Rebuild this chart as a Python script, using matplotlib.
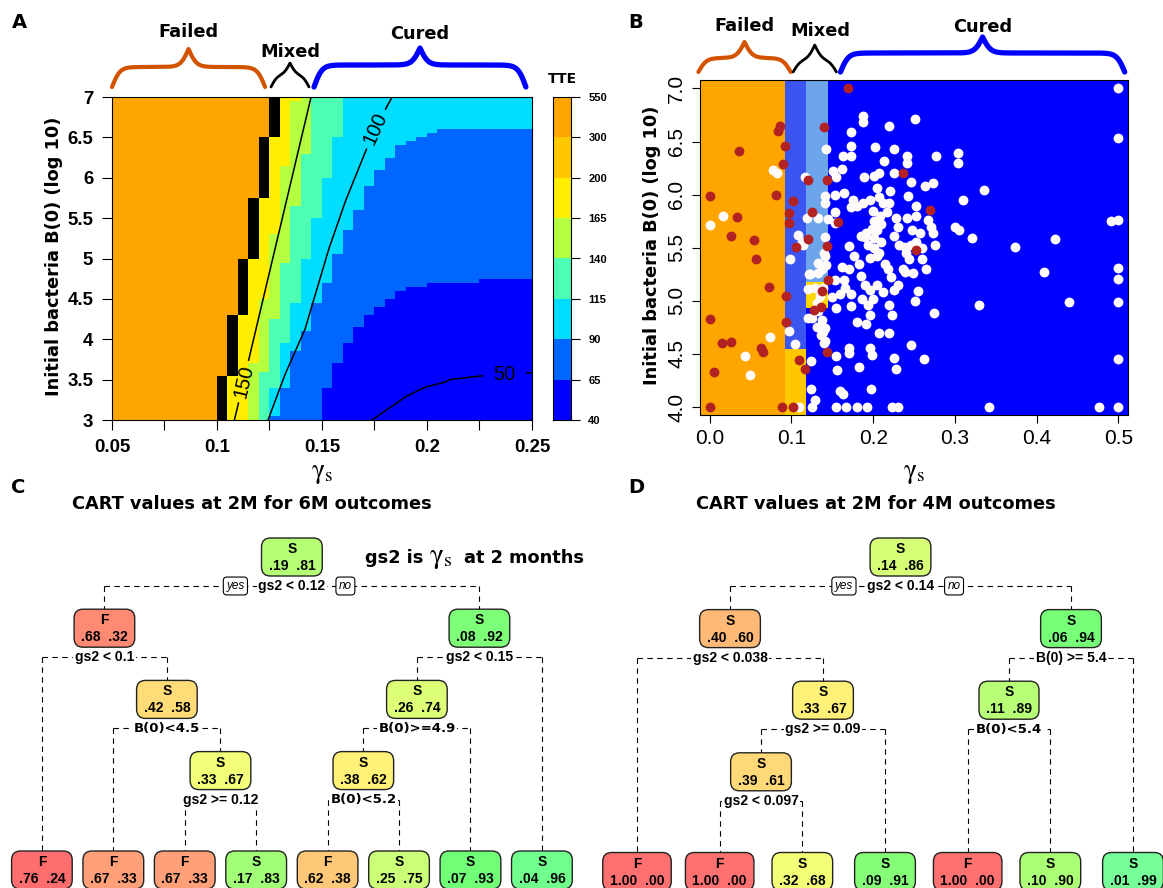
import numpy as np
import matplotlib
matplotlib.use("Agg")
import matplotlib.pyplot as plt
from matplotlib.colors import ListedColormap
from matplotlib.patches import FancyBboxPatch

plt.rcParams['font.family'] = 'DejaVu Sans'
plt.rcParams['mathtext.fontset'] = 'stix'

W, H = 1163, 888

# ---------------- panel A : TTE over gamma_s and B(0) ----------------
tte_levels = [40, 65, 90, 115, 140, 165, 200, 300, 550]
tte_colors = ['#0000FF', '#0066FF', '#00DDFF', '#4DFFB3', '#B3FF40',
              '#FFEE00', '#FFC800', '#FFA500']

# gamma_s where TTE crosses each level, read along B(0)
edge300_b0 = [3.0, 3.57, 4.32, 5.02, 5.78, 6.5, 7.0]
edge300_g = [0.099, 0.1026, 0.1076, 0.1126, 0.1176, 0.1226, 0.1262]
edge165_b0 = [3.0, 7.0]
edge165_g = [0.1131, 0.1379]
edge140_b0 = [3.0, 7.0]
edge140_g = [0.1182, 0.1475]
edge115_b0 = [3.0, 5.0, 7.0]
edge115_g = [0.1235, 0.1427, 0.1627]
edge90_b0 = [3.0, 3.16, 3.45, 3.87, 4.11, 4.49, 4.73, 5.08, 5.37, 5.62, 5.87,
             6.11, 6.26, 6.36, 6.455, 6.505, 6.554, 6.608, 6.62]
edge90_g = [0.127, 0.1283, 0.133, 0.1378, 0.1426, 0.148, 0.153, 0.1578, 0.1627,
            0.1675, 0.1723, 0.1771, 0.182, 0.1867, 0.1915, 0.1963, 0.2018, 0.2163, 0.30]
edge65_b0 = [3.0, 3.45, 3.74, 3.95, 4.135, 4.28, 4.38, 4.49, 4.57, 4.62, 4.67,
             4.69, 4.73, 4.74]
edge65_g = [0.1475, 0.153, 0.1578, 0.1627, 0.1675, 0.1723, 0.1771, 0.182, 0.1867,
            0.1915, 0.197, 0.2066, 0.2259, 0.30]

# labelled contour lines
c150_g = [0.1083, 0.1448]
c150_b0 = [3.0, 7.0]
c100_g = [0.1243, 0.132, 0.1418, 0.153, 0.161, 0.1706, 0.1775, 0.1834]
c100_b0 = [3.0, 3.54, 4.115, 5.1, 5.70, 6.32, 6.72, 7.0]
c50_g = [0.1738, 0.1899, 0.1994, 0.209, 0.2106, 0.225, 0.2371, 0.2459, 0.25]
c50_b0 = [3.0, 3.29, 3.41, 3.47, 3.50, 3.545, 3.56, 3.58, 3.585]

groups = ['Failed', 'Mixed', 'Cured']
a_grp_lo = [0.05, 0.1257, 0.1462]
a_grp_hi = [0.1229, 0.1438, 0.2471]

# ---------------- panel B : CART regions and patients ----------------
b_grp_lo = [-0.014, 0.102, 0.160]
b_grp_hi = [0.099, 0.155, 0.508]

reg_g0 = [-0.02, 0.092, 0.092, 0.118, 0.118, 0.118, 0.145]
reg_g1 = [0.092, 0.118, 0.118, 0.145, 0.145, 0.145, 0.52]
reg_b0 = [3.9, 4.55, 3.9, 5.18, 4.93, 3.9, 3.9]
reg_b1 = [7.1, 7.1, 4.55, 7.1, 5.18, 4.93, 7.1]
reg_col = ['#FFA500', '#3B55F0', '#FFC800', '#6CA5EB', '#FFD700', '#0000FF', '#0000FF']

cured_pts = [
    (0.4995, 7.0), (0.187, 6.74), (0.188, 6.68), (0.2516, 6.71), (0.219, 6.65), (0.4995, 6.53),
    (0.1724, 6.59), (0.1733, 6.46), (0.1424, 6.43), (0.202, 6.45), (0.2257, 6.43), (0.2416, 6.36),
    (0.2416, 6.30), (0.2771, 6.36), (0.2134, 6.32), (0.304, 6.39), (0.3044, 6.30), (0.1633, 6.36),
    (0.1733, 6.36), (0.162, 6.24), (0.1506, 6.22), (0.154, 6.17), (0.189, 6.17), (0.2006, 6.18),
    (0.2075, 6.2), (0.2257, 6.2), (0.246, 6.12), (0.273, 6.11), (0.264, 6.08), (0.1165, 6.17),
    (0.1415, 5.99), (0.153, 6.0), (0.1642, 6.02), (0.1756, 5.95), (0.187, 5.92), (0.196, 5.95),
    (0.2075, 5.98), (0.205, 6.06), (0.221, 6.03), (0.243, 5.99), (0.336, 6.04), (0.31, 5.95),
    (0.1406, 5.92), (0.1724, 5.88), (0.18, 5.89), (0.219, 5.92), (0.2166, 5.84), (0.253, 5.89),
    (0.1533, 5.84), (0.1187, 5.78), (0.145, 5.77), (0.228, 5.78), (0.2416, 5.78), (0.253, 5.8),
    (0.2006, 5.75), (0.2097, 5.72), (0.205, 5.67), (0.2666, 5.76), (0.271, 5.7), (0.273, 5.64),
    (0.3007, 5.70), (0.305, 5.67), (0.491, 5.75), (0.4995, 5.76), (0.1538, 5.73), (0.248, 5.67),
    (0.257, 5.64), (0.1074, 5.62), (0.1142, 5.53), (0.1847, 5.61), (0.1915, 5.64), (0.2006, 5.59),
    (0.1938, 5.53), (0.2006, 5.5), (0.2075, 5.45), (0.205, 5.42), (0.196, 5.4), (0.2257, 5.61),
    (0.2316, 5.53), (0.2393, 5.51), (0.2461, 5.53), (0.253, 5.55), (0.26, 5.5), (0.2757, 5.53),
    (0.3212, 5.59), (0.3735, 5.51), (0.4227, 5.58), (0.0983, 5.39), (0.1324, 5.36), (0.1415, 5.42),
    (0.1424, 5.34), (0.162, 5.32), (0.2439, 5.39), (0.26, 5.39), (0.121, 5.25), (0.1324, 5.26),
    (0.1529, 5.2), (0.1642, 5.2), (0.1847, 5.23), (0.2393, 5.27), (0.2484, 5.26), (0.2643, 5.3),
    (0.409, 5.27), (0.4995, 5.31), (0.4995, 5.21), (0.1197, 5.11), (0.139, 5.12), (0.1497, 5.04),
    (0.1597, 5.06), (0.1733, 5.06), (0.2552, 5.09), (0.1197, 4.84), (0.1324, 4.9), (0.137, 4.82),
    (0.1415, 4.74), (0.1551, 4.93), (0.1733, 4.95), (0.196, 4.87), (0.1938, 4.96), (0.2188, 4.96),
    (0.2234, 4.87), (0.18, 4.8), (0.1915, 4.78), (0.2507, 5.0), (0.2743, 4.89), (0.3294, 4.96),
    (0.4395, 4.99), (0.4995, 4.99), (0.2075, 4.7), (0.2188, 4.7), (0.0974, 4.72), (0.1392, 4.71),
    (0.1406, 4.62), (0.1042, 4.59), (0.0742, 4.66), (0.0428, 4.48), (0.171, 4.56), (0.171, 4.51),
    (0.196, 4.56), (0.1984, 4.49), (0.2461, 4.58), (0.1542, 4.48), (0.1233, 4.43), (0.2257, 4.46),
    (0.262, 4.45), (0.4995, 4.45), (0.1824, 4.38), (0.0487, 4.30), (0.156, 4.35), (0.228, 4.36),
    (0.1233, 4.17), (0.1597, 4.15), (0.1633, 4.12), (0.197, 4.17), (0.1288, 4.07), (0.1256, 4.0),
    (0.1096, 4.0), (0.155, 4.0), (0.1665, 4.0), (0.18, 4.0), (0.1924, 4.0), (0.2225, 4.0),
    (0.2302, 4.0), (0.3417, 4.0), (0.4768, 4.0), (0.4995, 4.0), (0.0778, 6.235), (0.0823, 6.2),
    (0.0164, 5.80), (0.0, 5.71), (0.2, 5.85), (0.208, 5.8), (0.212, 5.92), (0.19, 5.6),
    (0.198, 5.68), (0.21, 5.55), (0.214, 5.35), (0.218, 5.3), (0.222, 5.22), (0.205, 5.15),
    (0.196, 5.1), (0.19, 5.15), (0.212, 5.08), (0.2, 5.02), (0.186, 5.02), (0.166, 5.12),
    (0.17, 5.3), (0.225, 5.1), (0.23, 5.15), (0.237, 5.3), (0.24, 5.45), (0.23, 5.7),
    (0.17, 5.52), (0.176, 5.42), (0.183, 5.35), (0.1133, 5.55), (0.1224, 5.25), (0.1288, 5.12),
    (0.135, 5.05), (0.131, 4.98), (0.125, 4.84), (0.131, 4.75), (0.1365, 4.68), (0.14, 4.6),
    (0.137, 5.3), (0.14, 5.45), (0.1415, 5.6), (0.132, 5.78),
]
failed_pts = [
    (0.169, 7.0), (0.0855, 6.645), (0.084, 6.6), (0.1395, 6.635), (0.0355, 6.41), (0.092, 6.46),
    (0.090, 6.29), (0.1207, 6.14), (0.1433, 6.14), (0.237, 6.2), (0.0, 5.99), (0.081, 5.995),
    (0.1024, 5.94), (0.097, 5.83), (0.1248, 5.84), (0.0328, 5.79), (0.2697, 5.86), (0.097, 5.73),
    (0.157, 5.74), (0.0264, 5.61), (0.0546, 5.57), (0.1197, 5.58), (0.106, 5.51), (0.1438, 5.52),
    (0.2525, 5.48), (0.0569, 5.39), (0.0728, 5.13), (0.137, 5.09), (0.1444, 5.2), (0.0928, 5.05),
    (0.127, 4.91), (0.136, 4.94), (0.0, 4.83), (0.0933, 4.80), (0.015, 4.60), (0.026, 4.615),
    (0.0632, 4.56), (0.0655, 4.52), (0.1433, 4.52), (0.1096, 4.44), (0.116, 4.36), (0.005, 4.33),
    (0.0, 4.0), (0.088, 4.0), (0.102, 4.0),
]

# ---------------- panels C and D : CART trees ----------------
c_node = [1, 2, 4, 5, 10, 11, 22, 23, 3, 6, 12, 24, 25, 13, 7]
c_class = ['S', 'F', 'F', 'S', 'F', 'S', 'F', 'S', 'S', 'S', 'S', 'F', 'S', 'S', 'S']
c_pfail = [.19, .68, .76, .42, .67, .33, .67, .17, .08, .26, .38, .62, .25, .07, .04]
c_split = {1: 'gs2 < 0.12', 2: 'gs2 < 0.1', 5: 'B(0)<4.5', 11: 'gs2 >= 0.12',
           3: 'gs2 < 0.15', 6: 'B(0)>=4.9', 12: 'B(0)<5.2'}

d_node = [1, 2, 4, 5, 10, 20, 21, 11, 3, 6, 12, 13, 7]
d_class = ['S', 'S', 'F', 'S', 'S', 'F', 'S', 'S', 'S', 'S', 'F', 'S', 'S']
d_pfail = [.14, .40, 1.00, .33, .39, 1.00, .32, .09, .06, .11, 1.00, .10, .01]
d_split = {1: 'gs2 < 0.14', 2: 'gs2 < 0.038', 5: 'gs2 >= 0.09', 10: 'gs2 < 0.097',
           3: 'B(0) >= 5.4', 6: 'B(0)<5.4'}

c_fill = {1: '#B5FF77', 2: '#FF8A73', 4: '#FF6E6E', 5: '#FFDC78', 10: '#FFA078',
          11: '#F2FF78', 22: '#FFA078', 23: '#A0FF77', 3: '#7DFF77', 6: '#DDFF77',
          12: '#FFF078', 24: '#FFC878', 25: '#CCFF78', 13: '#70FF77', 7: '#70FF8C'}
d_fill = {1: '#D6FF77', 2: '#FFB977', 4: '#FF7070', 5: '#FFF077', 10: '#FFD878',
          20: '#FF7070', 21: '#F2FF77', 11: '#85FF77', 3: '#77FF77', 6: '#B8FF77',
          12: '#FF7070', 13: '#AAFF77', 7: '#77FF99'}


def rect(x0, y0, x1, y1):
    return [x0 / W, 1 - y1 / H, (x1 - x0) / W, (y1 - y0) / H]


fig = plt.figure(figsize=(W / 100, H / 100), dpi=100)

A_BOX = (112, 97, 532, 420)
CB_BOX = (553, 97, 571, 420)
B_BOX = (700, 80, 1128, 415)
A_XLIM, A_YLIM = (0.05, 0.25), (3.0, 7.0)
B_XLIM, B_YLIM = (-0.012, 0.512), (3.925, 7.08)

bold_lib = dict(family='Liberation Sans', weight='bold')

# ---- A: banded map
axa = fig.add_axes(rect(*A_BOX))
g_edges = np.linspace(0.05, 0.25, 41)
b_edges = np.linspace(3.0, 7.0, 81)
gc = 0.5 * (g_edges[1:] + g_edges[:-1])
bc = 0.5 * (b_edges[1:] + b_edges[:-1])
G, B = np.meshgrid(gc, bc)

e300 = np.interp(B, edge300_b0, edge300_g)
e200 = e300 + 0.005
edges = [e300, e200,
         np.interp(B, edge165_b0, edge165_g),
         np.interp(B, edge140_b0, edge140_g),
         np.interp(B, edge115_b0, edge115_g),
         np.interp(B, edge90_b0, edge90_g),
         np.interp(B, edge65_b0, edge65_g)]
band = sum((G < e).astype(int) for e in edges)
axa.pcolormesh(g_edges, b_edges, band, cmap=ListedColormap(tte_colors),
               vmin=-0.5, vmax=7.5, shading='flat', antialiased=False)
# the 200..550 contour lines crowd into one solid black column
dense = np.ma.masked_where(band != 6, band)
axa.pcolormesh(g_edges, b_edges, dense, cmap=ListedColormap(['black']),
               shading='flat', antialiased=False)

px_g = (A_BOX[2] - A_BOX[0]) / (A_XLIM[1] - A_XLIM[0])
px_b = (A_BOX[3] - A_BOX[1]) / (A_YLIM[1] - A_YLIM[0])


def contour_line(gs, bs, label, at, gap=22):
    gs, bs = np.asarray(gs), np.asarray(bs)
    s = np.r_[0, np.cumsum(np.hypot(np.diff(gs) * px_g, np.diff(bs) * px_b))]
    ss = np.linspace(0, s[-1], 800)
    gg, bb = np.interp(ss, s, gs), np.interp(ss, s, bs)
    d = np.hypot((gg - at[0]) * px_g, (bb - at[1]) * px_b)
    k = int(np.argmin(d))
    d = np.hypot((gg - gg[k]) * px_g, (bb - bb[k]) * px_b)
    gm = gg.copy()
    gm[d < gap] = np.nan
    axa.plot(gm, bb, color='black', lw=1.1)
    k0, k1 = max(k - 8, 0), min(k + 8, len(gg) - 1)
    ang = np.degrees(np.arctan2((bb[k1] - bb[k0]) * px_b, (gg[k1] - gg[k0]) * px_g))
    if abs(ang) < 6:
        ang = 0
    axa.text(gg[k], bb[k], label, rotation=ang, ha='center', va='center',
             fontsize=14.5, family='Liberation Sans')


contour_line(c150_g, c150_b0, '150', (0.1138, 3.47))
contour_line(c100_g, c100_b0, '100', (0.1758, 6.6))
contour_line(c50_g, c50_b0, '50', (0.2371, 3.56))

axa.set_xlim(*A_XLIM)
axa.set_ylim(*A_YLIM)
axa.set_xticks(np.arange(0.05, 0.2501, 0.025))
axa.set_xticklabels(['0.05', '', '0.1', '', '0.15', '', '0.2', '', '0.25'])
axa.set_yticks(np.arange(3, 7.01, 0.5))
axa.set_yticklabels(['3', '3.5', '4', '4.5', '5', '5.5', '6', '6.5', '7'])
axa.tick_params(length=7.5, width=0.8, pad=6, labelsize=13.4)
for t in axa.get_xticklabels() + axa.get_yticklabels():
    t.set_fontproperties(bold_lib)
    t.set_fontsize(13.4)

# ---- A: colour key
cax = fig.add_axes(rect(*CB_BOX))
cax.pcolormesh([0, 1], np.arange(9), np.arange(8).reshape(-1, 1),
               cmap=ListedColormap(tte_colors), vmin=-0.5, vmax=7.5)
cax.set_xlim(0, 1)
cax.set_ylim(0, 8)
cax.set_xticks([])
cax.yaxis.tick_right()
cax.set_yticks(range(9))
cax.set_yticklabels([str(v) for v in tte_levels])
cax.tick_params(length=6.5, width=0.8, pad=6)
for t in cax.get_yticklabels():
    t.set_fontproperties(bold_lib)
    t.set_fontsize(8)

# ---- B: partition and patients
axb = fig.add_axes(rect(*B_BOX))
for g0, g1, b0, b1, col in zip(reg_g0, reg_g1, reg_b0, reg_b1, reg_col):
    axb.fill_between([g0, g1], [b0, b0], [b1, b1], color=col, lw=0)
cx, cy = zip(*cured_pts)
fx, fy = zip(*failed_pts)
axb.scatter(cx, cy, s=50, color='#FFFBFB', linewidths=0, zorder=3)
axb.scatter(fx, fy, s=50, color='#B22222', linewidths=0, zorder=4)
axb.set_xlim(*B_XLIM)
axb.set_ylim(*B_YLIM)
axb.set_xticks(np.arange(0, 0.51, 0.1))
axb.set_xticklabels(['%.1f' % v for v in np.arange(0, 0.51, 0.1)])
axb.set_yticks(np.arange(4, 7.01, 0.5))
axb.set_yticklabels(['%.1f' % v for v in np.arange(4, 7.01, 0.5)], rotation=90, va='center')
axb.tick_params(length=6, width=0.8, pad=4)
for t in axb.get_xticklabels() + axb.get_yticklabels():
    t.set_family('Liberation Sans')
    t.set_fontsize(15)

# ---- overlay in pixel units for braces, labels and trees
ov = fig.add_axes([0, 0, 1, 1], zorder=5)
ov.set_xlim(0, W)
ov.set_ylim(H, 0)
ov.axis('off')


def to_px(box, lim, g):
    return box[0] + (g - lim[0]) / (lim[1] - lim[0]) * (box[2] - box[0])


def brace(x0, x1, y_end, y_flat, y_tip, color, lw):
    half = (x1 - x0) / 2
    beta = max(0.25, 6 / half)
    u = np.linspace(0, half, 300)
    s1 = 2 / (1 + np.exp(-beta * u)) - 1
    s2 = 2 / (1 + np.exp(-beta * (u - half)))
    y = y_end + (y_flat - y_end) * s1 + (y_tip - y_flat) * s2
    xs = np.r_[x0 + u, x1 - u[::-1]]
    ys = np.r_[y, y[::-1]]
    ov.plot(xs, ys, color=color, lw=lw, solid_capstyle='round')


brace_col = ['#D35400', 'black', '#0000FF']
brace_lw = [3.0, 2.0, 3.8]
a_geom = [(87, 67, 49), (87, 75, 63), (87, 65, 48)]
a_text_y = [32, 52, 34]
b_geom = [(72, 58, 42), (72, 60, 45), (72, 53, 37)]
b_text_y = [26, 31, 27]
for i, name in enumerate(groups):
    x0 = to_px(A_BOX, A_XLIM, a_grp_lo[i])
    x1 = to_px(A_BOX, A_XLIM, a_grp_hi[i])
    brace(x0, x1, *a_geom[i], brace_col[i], brace_lw[i])
    ov.text((x0 + x1) / 2, a_text_y[i], name, ha='center', va='center',
            fontsize=12.8, weight='bold')
    x0 = to_px(B_BOX, B_XLIM, b_grp_lo[i])
    x1 = to_px(B_BOX, B_XLIM, b_grp_hi[i])
    brace(x0, x1, *b_geom[i], brace_col[i], brace_lw[i])
    ov.text((x0 + x1) / 2 + (6 if name == 'Mixed' else 0), b_text_y[i], name,
            ha='center', va='center', fontsize=12.8, weight='bold')

ov.text(562, 79, 'TTE', ha='center', va='center', fontsize=10, weight='bold')

ylab = 'Initial bacteria B(0) (log 10)'
ov.text(54, 256, ylab, rotation=90, ha='center', va='center', fontsize=12.8, weight='bold')
ov.text(652, 245, ylab, rotation=90, ha='center', va='center', fontsize=12.8, weight='bold')
gam = r'$\mathrm{\gamma_s}$'
ov.text(322, 458, gam, ha='center', va='top', fontsize=20)
ov.text(914, 458, gam, ha='center', va='top', fontsize=20)

for lab, x, y in [('A', 19, 22), ('B', 636, 22), ('C', 18, 487), ('D', 636, 487)]:
    ov.text(x, y, lab, ha='center', va='center', fontsize=14, weight='bold')

ov.text(252, 504, 'CART values at 2M for 6M outcomes', ha='center', va='center',
        fontsize=12.8, weight='bold')
ov.text(876, 504, 'CART values at 2M for 4M outcomes', ha='center', va='center',
        fontsize=12.8, weight='bold')

renderer = fig.canvas.get_renderer()


def width_px(t):
    return t.get_window_extent(renderer).width


t1 = ov.text(365, 563, 'gs2 is', ha='left', va='baseline', fontsize=12.8, weight='bold')
xg = 365 + width_px(t1) + 6
t2 = ov.text(xg, 563, gam, ha='left', va='baseline', fontsize=21)
ov.text(xg + width_px(t2) + 11, 563, 'at 2 months', ha='left', va='baseline',
        fontsize=12.8, weight='bold')

dash = (0, (4.9, 4.0))


def fmt(p):
    s = '%.2f' % p
    return s[1:] if s.startswith('0') else s


def draw_tree(ids, cls, pfail, splits, fills, x_first, x_last, y_root, dy, y_leaf):
    have = set(ids)

    def leaves(i):
        return leaves(2 * i) + leaves(2 * i + 1) if 2 * i in have else [i]

    order = leaves(1)
    xs = dict(zip(order, np.linspace(x_first, x_last, len(order))))

    def place(i):
        if i not in xs:
            xs[i] = 0.5 * (place(2 * i) + place(2 * i + 1))
        return xs[i]

    place(1)
    ys = {i: (y_leaf if 2 * i not in have else y_root + dy * int(np.log2(i))) for i in ids}

    for i, text in splits.items():
        ly = ys[i] + 29
        l, r = 2 * i, 2 * i + 1
        ov.plot([xs[l], xs[r]], [ly, ly], color='k', lw=0.8, ls=dash, zorder=1)
        ov.plot([xs[l], xs[l]], [ly, ys[l]], color='k', lw=0.8, ls=dash, zorder=1)
        ov.plot([xs[r], xs[r]], [ly, ys[r]], color='k', lw=0.8, ls=dash, zorder=1)
        if ' ' in text:
            fp = dict(family='Liberation Sans', weight='bold', size=10)
        else:
            fp = dict(family='DejaVu Sans', weight='bold', size=9.5)
        lt = ov.text(xs[i], ly, text, ha='center', va='center', zorder=4,
                     bbox=dict(boxstyle='square,pad=0.12', fc='white', ec='none'), **fp)
        if i == 1:
            ext = lt.get_window_extent(renderer)
            for word, xc in [('yes', ext.x0 - 23), ('no', ext.x1 + 20)]:
                ov.text(xc, ly, word, ha='center', va='center', zorder=4,
                        fontsize=8.5, family='Liberation Sans', style='italic',
                        bbox=dict(boxstyle='round,pad=0.25,rounding_size=0.3',
                                  fc='white', ec='black', lw=0.8))

    for i, c, pf in zip(ids, cls, pfail):
        probs = fmt(pf) + '  ' + fmt(1 - pf)
        pt = ov.text(xs[i], ys[i] + 9, probs, ha='center', va='center', zorder=6,
                     family='Liberation Sans', weight='bold', fontsize=10)
        ov.text(xs[i], ys[i] - 8, c, ha='center', va='center', zorder=6,
                family='Liberation Sans', weight='bold', fontsize=10)
        bw = max(60, width_px(pt) + 14)
        ov.add_patch(FancyBboxPatch((xs[i] - bw / 2, ys[i] - 19), bw, 38,
                                    boxstyle='round,pad=0,rounding_size=9',
                                    fc=fills[i], ec='#222222', lw=1.0, zorder=5))


draw_tree(c_node, c_class, c_pfail, c_split, c_fill, 41.9, 541.9, 557, 71.2, 870)
draw_tree(d_node, d_class, d_pfail, d_split, d_fill, 637, 1133, 557, 71.6, 871.5)

fig.savefig('out.png', dpi=100)
